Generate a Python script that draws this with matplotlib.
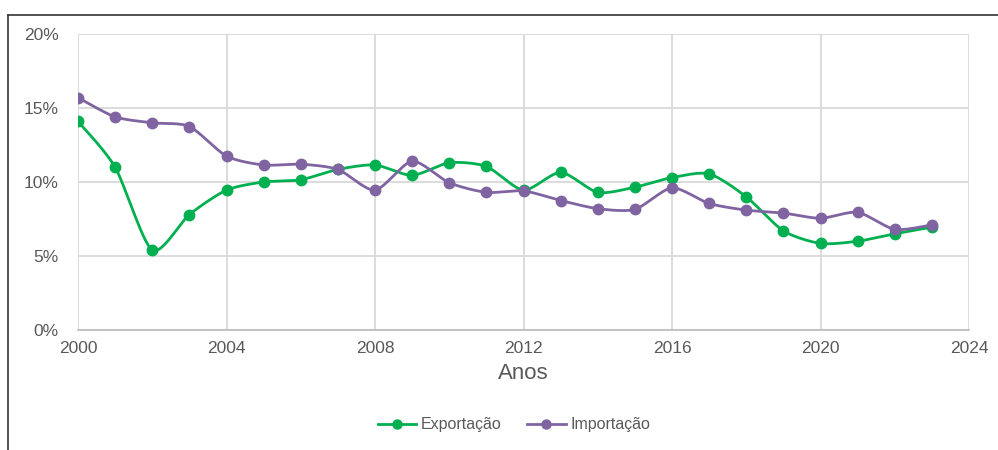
import matplotlib
matplotlib.use("Agg")
import matplotlib.pyplot as plt
from matplotlib.lines import Line2D
import numpy as np

plt.rcParams['font.family'] = ['Liberation Sans', 'DejaVu Sans']

years = list(range(2000, 2024))
exportacao = [14.1, 11.0, 5.4, 7.8, 9.45, 10.0, 10.15, 10.85, 11.15, 10.45, 11.3, 11.05,
              9.45, 10.65, 9.3, 9.65, 10.3, 10.55, 9.0, 6.7, 5.85, 6.0, 6.5, 6.95]
importacao = [15.7, 14.4, 14.0, 13.75, 11.75, 11.15, 11.2, 10.85, 9.45, 11.4, 9.95, 9.3,
              9.4, 8.75, 8.2, 8.15, 9.6, 8.55, 8.1, 7.9, 7.55, 7.95, 6.8, 7.1]
x_ticks = [2000, 2004, 2008, 2012, 2016, 2020, 2024]
y_ticks = [0, 5, 10, 15, 20]

GREEN = "#00B050"
PURPLE = "#8064A2"
GRID = "#D9D9D9"
TXT = "#595959"


def smooth(x, y, n=30, k=1 / 8):
    # Bezier smoothing similar to Excel's "smoothed line"
    x = np.asarray(x, float)
    y = np.asarray(y, float)
    px = np.concatenate([[x[0]], x, [x[-1]]])
    py = np.concatenate([[y[0]], y, [y[-1]]])
    xs, ys = [], []
    t = np.linspace(0, 1, n)
    for i in range(1, len(px) - 2):
        p0, p1, p2, p3 = (np.array([px[j], py[j]]) for j in (i - 1, i, i + 1, i + 2))
        c1 = p1 + (p2 - p0) * k
        c2 = p2 - (p3 - p1) * k
        b = ((1 - t) ** 3)[:, None] * p1 + (3 * (1 - t) ** 2 * t)[:, None] * c1 \
            + (3 * (1 - t) * t ** 2)[:, None] * c2 + (t ** 3)[:, None] * p2
        xs.extend(b[:, 0])
        ys.extend(b[:, 1])
    return np.array(xs), np.array(ys)


fig = plt.figure(figsize=(9.98, 4.5), dpi=100)
ax = fig.add_axes([78 / 998, 1 - 330 / 450, (969 - 78) / 998, (330 - 34) / 450])

for vals, col in [(exportacao, GREEN), (importacao, PURPLE)]:
    sx, sy = smooth(years, vals)
    ax.plot(sx, sy, color=col, lw=2.0, zorder=3, solid_capstyle="round")
    ax.plot(years, vals, ls="none", marker="o", ms=7.5, color=col, zorder=4)

ax.set_xlim(2000, 2024)
ax.set_ylim(0, 20)
ax.set_xticks(x_ticks)
ax.set_yticks(y_ticks)
ax.set_yticklabels([f"{v}%" for v in y_ticks])
ax.grid(True, color=GRID, lw=1.3)
ax.set_axisbelow(True)
for s in ["top", "right", "left"]:
    ax.spines[s].set_visible(False)
ax.spines["bottom"].set_color("#BFBFBF")
ax.spines["bottom"].set_linewidth(1.3)
ax.tick_params(length=0, labelsize=12.5, labelcolor=TXT)
ax.tick_params(axis="y", pad=14)
ax.tick_params(axis="x", pad=8)
ax.set_xlabel("Anos", fontsize=16, color=TXT, labelpad=5)

handles = [Line2D([], [], color=GREEN, lw=2, marker="o", ms=6.5),
           Line2D([], [], color=PURPLE, lw=2, marker="o", ms=6.5)]
fig.legend(handles, ["Exportação", "Importação"], loc="center", bbox_to_anchor=(514 / 998, 1 - 425 / 450),
           ncol=2, frameon=False, fontsize=11.5, labelcolor=TXT, handlelength=2.4, handletextpad=0.3,
           columnspacing=1.6)

# outer frame lines (top and left)
fig.add_artist(Line2D([8 / 998, 1], [1 - 14.5 / 450] * 2, color="#333333", lw=1.2, transform=fig.transFigure))
fig.add_artist(Line2D([8 / 998] * 2, [0, 1 - 14.5 / 450], color="#333333", lw=1.2, transform=fig.transFigure))

fig.savefig("out.png", dpi=100, facecolor="white")
